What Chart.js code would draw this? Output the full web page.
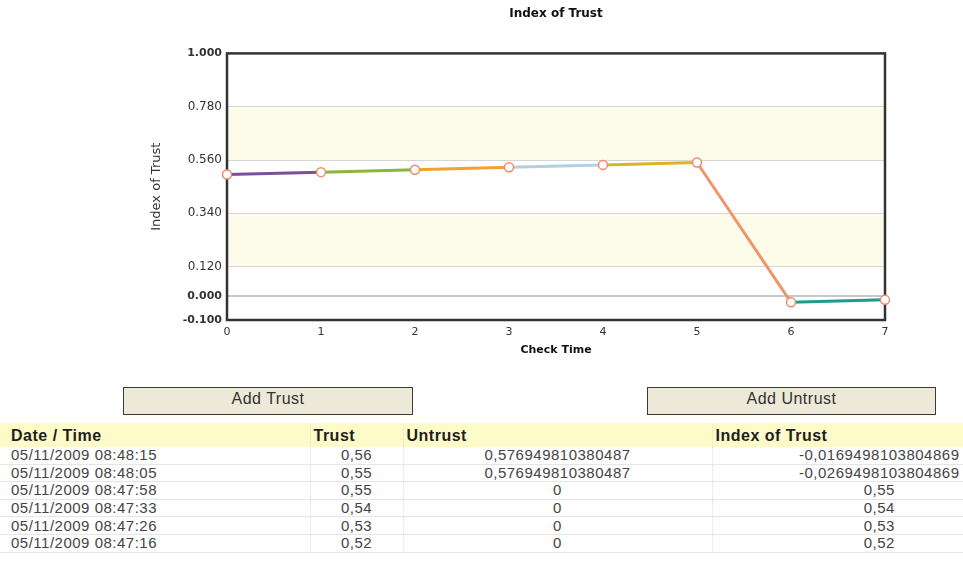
<!DOCTYPE html>
<html>
<head>
<meta charset="utf-8">
<script src="https://cdn.jsdelivr.net/npm/chart.js@4.4.1/dist/chart.umd.min.js"></script>
<style>
  body { margin: 0; background: #fff; overflow: hidden; width: 963px; height: 587px; position: relative; font-family: "Liberation Sans", Arial, sans-serif; }
  #chartBox { position: absolute; left: 149px; top: 0; width: 814px; height: 362px; }
  .btn { position: absolute; top: 387px; height: 28px; box-sizing: border-box; background: #ece9d8; border: 1px solid #3a3a3a; font: 16px "Liberation Sans", Arial, sans-serif; letter-spacing: 0.5px; color: #333; text-align: center; line-height: 21px; }
  #grid { position: absolute; left: 0; top: 423px; border-collapse: collapse; font-size: 15px; letter-spacing: 0.5px; color: #444; table-layout: fixed; width: 1046px; }
  #grid th { background: #fffbc9; color: #1e1e1e; font-weight: bold; font-size: 16px; text-align: left; height: 22px; padding: 2px 3px 0 3px; border-left: 1px solid #f0ecc8; }
  #grid td { height: 16.6px; line-height: 16px; padding: 0 3px; border-bottom: 1px solid #e6e6e6; border-left: 1px dotted #dcdcdc; }
  #grid th:first-child, #grid td:first-child { padding-left: 11px; border-left: none; }
  #grid td.c { text-align: center; }
</style>
</head>
<body>
<div id="chartBox"><canvas id="myChart"></canvas></div>
<div class="btn" style="left:123px;width:290px;">Add Trust</div>
<div class="btn" style="left:647px;width:289px;">Add Untrust</div>
<table id="grid">
  <colgroup><col style="width:310px"><col style="width:93px"><col style="width:309px"><col style="width:334px"></colgroup>
  <thead><tr id="headRow"></tr></thead>
  <tbody id="bodyRows"></tbody>
</table>
<script>
// chart data
var checkTimes = [0, 1, 2, 3, 4, 5, 6, 7];
var indexOfTrust = [0.50, 0.51, 0.52, 0.53, 0.54, 0.55, -0.0269498103804869, -0.0169498103804869];
var segmentColors = ['#7d4e9a', '#8ab63a', '#f5a030', '#b3cfe2', '#dcb428', '#f0956a', '#1f9a8c'];
var yTicks = [1.0, 0.78, 0.56, 0.34, 0.12, 0.0, -0.1];
var boldTicks = [1.0, 0.0, -0.1];
var bands = [[0.56, 0.78], [0.12, 0.34]];

// table data
var columns = ['Date / Time', 'Trust', 'Untrust', 'Index of Trust'];
var dates = ['05/11/2009 08:48:15', '05/11/2009 08:48:05', '05/11/2009 08:47:58', '05/11/2009 08:47:33', '05/11/2009 08:47:26', '05/11/2009 08:47:16'];
var trustCol = ['0,56', '0,55', '0,55', '0,54', '0,53', '0,52'];
var untrustCol = ['0,576949810380487', '0,576949810380487', '0', '0', '0', '0'];
var indexCol = ['-0,0169498103804869', '-0,0269498103804869', '0,55', '0,54', '0,53', '0,52'];

let head = document.getElementById('headRow');
columns.forEach(c => { let th = document.createElement('th'); th.textContent = c; head.appendChild(th); });
let body = document.getElementById('bodyRows');
dates.forEach((d, i) => {
    let tr = document.createElement('tr');
    tr.innerHTML = '<td>' + d + '</td><td class="c">' + trustCol[i] + '</td><td class="c">' + untrustCol[i] + '</td><td class="c">' + indexCol[i] + '</td>';
    body.appendChild(tr);
});

function tickVal(c) {
    return (c && c.tick) ? c.tick.value : null;
}

var bandsPlugin = {
    id: 'bands',
    beforeDraw(chart) {
        let ctx = chart.ctx, a = chart.chartArea, y = chart.scales.y;
        ctx.save();
        ctx.fillStyle = '#fdfbea';
        bands.forEach(b => {
            let top = y.getPixelForValue(b[1]), bot = y.getPixelForValue(b[0]);
            ctx.fillRect(a.left, top, a.right - a.left, bot - top);
        });
        ctx.restore();
    },
    beforeDatasetsDraw(chart) {
        let ctx = chart.ctx, a = chart.chartArea;
        ctx.save();
        ctx.strokeStyle = '#333';
        ctx.lineWidth = 2.5;
        ctx.strokeRect(a.left, a.top, a.right - a.left, a.bottom - a.top);
        ctx.restore();
    }
};

let ctx = document.getElementById('myChart').getContext('2d');
let myChart = new Chart(ctx, {
    type: 'line',
    data: {
        datasets: [{
            label: 'Index of Trust',
            data: checkTimes.map((t, i) => ({ x: t, y: indexOfTrust[i] })),
            borderWidth: 3,
            borderColor: segmentColors[0],
            segment: { borderColor: c => segmentColors[c.p0DataIndex] },
            pointRadius: 4.5,
            pointBorderWidth: 1.5,
            pointBorderColor: '#f08a6a',
            pointBackgroundColor: '#fff',
            tension: 0,
            clip: false
        }]
    },
    options: {
        responsive: true,
        maintainAspectRatio: false,
        animation: false,
        layout: { padding: 0 },
        plugins: {
            legend: { display: false },
            tooltip: { enabled: false },
            title: {
                display: true,
                text: 'Index of Trust',
                color: '#111',
                font: { family: 'DejaVu Sans', size: 12, weight: 'bold' },
                padding: { top: 7, bottom: 32 }
            }
        },
        scales: {
            x: {
                type: 'linear',
                min: 0, max: 7,
                grid: { display: false, drawTicks: false },
                border: { display: false },
                ticks: { stepSize: 1, padding: 6, color: '#333', font: { family: 'DejaVu Sans', size: 11 } },
                title: { display: true, text: 'Check Time', color: '#111', font: { family: 'DejaVu Sans', size: 11, weight: 'bold' }, padding: { top: 0, bottom: 5 } },
                afterFit(scale) { scale.height = 42; scale.paddingRight = 78; }
            },
            y: {
                min: -0.1, max: 1.0,
                afterBuildTicks(scale) { scale.ticks = yTicks.map(v => ({ value: v })); },
                grid: {
                    drawTicks: false,
                    color: c => {
                        let v = tickVal(c);
                        if (v === 1 || v === -0.1) return 'rgba(0,0,0,0)';
                        return v === 0 ? '#c8c8c8' : '#d6d6d6';
                    },
                    lineWidth: c => tickVal(c) === 0 ? 2 : 1
                },
                border: { display: false },
                ticks: {
                    padding: 5,
                    color: '#333',
                    callback: v => v.toFixed(3),
                    font: c => boldTicks.indexOf(tickVal(c)) >= 0 ? { family: 'DejaVu Sans', size: 11, weight: 'bold' } : { family: 'DejaVu Sans', size: 12 }
                },
                title: { display: true, text: 'Index of Trust', color: '#333', font: { family: 'DejaVu Sans', size: 13 }, padding: 0 },
                afterFit(scale) { scale.width = 78; }
            }
        }
    },
    plugins: [bandsPlugin]
});
</script>
</body>
</html>
